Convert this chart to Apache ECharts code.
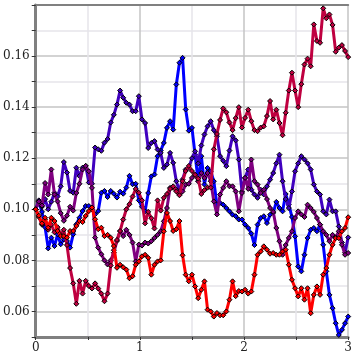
<!DOCTYPE html>
<html>
<head>
<meta charset="utf-8">
<script src="https://cdn.jsdelivr.net/npm/echarts@6/dist/echarts.min.js"></script>
<style>
  html, body { margin: 0; padding: 0; background: #fff; }
  #chart { width: 355px; height: 355px; }
</style>
</head>
<body>
<div id="chart"></div>
<script>
// sample positions along x (0 .. 3, step 0.03)
const xs = Array.from({ length: 101 }, (_, i) => +(i * 0.03).toFixed(2));

const walkBlue = [
  0.1000, 0.1030, 0.0990, 0.0930, 0.0847, 0.0889, 0.0856, 0.0902, 0.0863, 0.0882,
  0.0876, 0.0850, 0.0902, 0.0941, 0.0967, 0.0993, 0.1013, 0.1013, 0.1000, 0.0980,
  0.0993, 0.1065, 0.1072, 0.1048, 0.1072, 0.1061, 0.1046, 0.1069, 0.1061, 0.1085,
  0.1131, 0.1098, 0.1100, 0.1035, 0.1010, 0.0992, 0.1064, 0.1129, 0.1136, 0.1208,
  0.1230, 0.1260, 0.1319, 0.1345, 0.1312, 0.1489, 0.1574, 0.1593, 0.1391, 0.1308,
  0.1319, 0.1214, 0.1110, 0.1208, 0.1097, 0.1162, 0.1149, 0.1110, 0.1018, 0.1025,
  0.1018, 0.1005, 0.0992, 0.0979, 0.0973, 0.0960, 0.0960, 0.0940, 0.0927, 0.0905,
  0.0860, 0.0940, 0.0966, 0.0973, 0.0946, 0.0979, 0.0986, 0.1029, 0.1005, 0.0992,
  0.1060, 0.1018, 0.0970, 0.0894, 0.0776, 0.0757, 0.0822, 0.0888, 0.0920, 0.0927,
  0.0914, 0.0940, 0.0861, 0.0757, 0.0665, 0.0613, 0.0554, 0.0508, 0.0528, 0.0554,
  0.0580
];

const walkIndigo = [
  0.1000, 0.1035, 0.1010, 0.1040, 0.1000, 0.1030, 0.1065, 0.1050, 0.1090, 0.1185,
  0.1144, 0.1072, 0.1065, 0.1163, 0.1130, 0.1163, 0.1170, 0.1105, 0.1100, 0.1242,
  0.1235, 0.1229, 0.1261, 0.1275, 0.1340, 0.1370, 0.1410, 0.1465, 0.1437, 0.1417,
  0.1410, 0.1384, 0.1384, 0.1443, 0.1352, 0.1338, 0.1240, 0.1260, 0.1267, 0.1234,
  0.1221, 0.1162, 0.1175, 0.1221, 0.1182, 0.1110, 0.1071, 0.1117, 0.1156, 0.1162,
  0.1200, 0.1227, 0.1180, 0.1250, 0.1293, 0.1325, 0.1345, 0.1310, 0.1286, 0.1208,
  0.1190, 0.1169, 0.1230, 0.1286, 0.1270, 0.1195, 0.1070, 0.1123, 0.1156, 0.1077,
  0.1058, 0.1045, 0.1077, 0.1058, 0.1090, 0.1116, 0.1142, 0.1180, 0.1214, 0.1110,
  0.1040, 0.1005, 0.1070, 0.1149, 0.1180, 0.1208, 0.1195, 0.1180, 0.1156, 0.1097,
  0.1070, 0.1058, 0.0992, 0.0980, 0.1038, 0.0992, 0.0992, 0.0933, 0.0870, 0.0830,
  0.0890
];

const walkPurple = [
  0.1000, 0.1030, 0.1015, 0.1103, 0.1058, 0.1156, 0.1058, 0.1031, 0.0985, 0.0955,
  0.0975, 0.1010, 0.0995, 0.1064, 0.1100, 0.1156, 0.1170, 0.1149, 0.1084, 0.0889,
  0.0850, 0.0824, 0.0800, 0.0784, 0.0800, 0.0830, 0.0876, 0.0915, 0.0895, 0.0920,
  0.0900, 0.0870, 0.0796, 0.0862, 0.0858, 0.0870, 0.0866, 0.0875, 0.0888, 0.0900,
  0.0914, 0.0953, 0.1005, 0.1084, 0.1084, 0.1077, 0.1058, 0.1070, 0.1097, 0.1100,
  0.1123, 0.1136, 0.1110, 0.1142, 0.1123, 0.1142, 0.1110, 0.1031, 0.0980, 0.1058,
  0.1084, 0.1110, 0.1090, 0.1090, 0.1070, 0.0992, 0.1064, 0.1123, 0.1080, 0.1195,
  0.1110, 0.1097, 0.1064, 0.1077, 0.1040, 0.1005, 0.0990, 0.0927, 0.0875, 0.0822,
  0.0860, 0.0888, 0.0914, 0.0966, 0.0992, 0.0980, 0.0970, 0.1018, 0.1005, 0.0990,
  0.0966, 0.0940, 0.0914, 0.0900, 0.0875, 0.0900, 0.0890, 0.0914, 0.0861, 0.0822,
  0.0829
];

const walkCrimson = [
  0.1000, 0.0970, 0.0940, 0.0960, 0.0920, 0.0940, 0.0910, 0.0930, 0.0900, 0.0920,
  0.0860, 0.0770, 0.0710, 0.0630, 0.0720, 0.0670, 0.0720, 0.0700, 0.0690, 0.0710,
  0.0690, 0.0670, 0.0640, 0.0670, 0.0780, 0.0840, 0.0880, 0.0915, 0.0960, 0.1000,
  0.1020, 0.1050, 0.1080, 0.1065, 0.1035, 0.0945, 0.0990, 0.0965, 0.0925, 0.1035,
  0.0995, 0.1045, 0.1060, 0.1080, 0.1090, 0.1070, 0.1055, 0.1110, 0.1150, 0.1170,
  0.1150, 0.1135, 0.1120, 0.1060, 0.1075, 0.1085, 0.1085, 0.1235, 0.1295, 0.1350,
  0.1395, 0.1380, 0.1340, 0.1310, 0.1357, 0.1400, 0.1320, 0.1358, 0.1390, 0.1345,
  0.1310, 0.1306, 0.1320, 0.1325, 0.1365, 0.1424, 0.1352, 0.1390, 0.1338, 0.1290,
  0.1378, 0.1465, 0.1535, 0.1465, 0.1400, 0.1490, 0.1567, 0.1590, 0.1560, 0.1724,
  0.1659, 0.1652, 0.1787, 0.1748, 0.1763, 0.1722, 0.1617, 0.1633, 0.1643, 0.1620,
  0.1596
];

const walkRed = [
  0.1000, 0.0975, 0.0945, 0.0967, 0.0928, 0.0967, 0.0954, 0.0915, 0.0895, 0.0895,
  0.0889, 0.0915, 0.0915, 0.0935, 0.0954, 0.0950, 0.0974, 0.0993, 0.1007, 0.0961,
  0.0922, 0.0928, 0.0895, 0.0900, 0.0889, 0.0856, 0.0771, 0.0783, 0.0773, 0.0764,
  0.0730, 0.0738, 0.0783, 0.0796, 0.0816, 0.0822, 0.0810, 0.0744, 0.0783, 0.0796,
  0.0800, 0.0914, 0.0986, 0.0954, 0.0915, 0.0922, 0.0954, 0.0820, 0.0744, 0.0718,
  0.0744, 0.0698, 0.0652, 0.0685, 0.0718, 0.0607, 0.0600, 0.0580, 0.0594, 0.0585,
  0.0585, 0.0600, 0.0646, 0.0718, 0.0660, 0.0680, 0.0678, 0.0685, 0.0670, 0.0678,
  0.0744, 0.0822, 0.0835, 0.0855, 0.0842, 0.0826, 0.0829, 0.0822, 0.0822, 0.0835,
  0.0842, 0.0783, 0.0724, 0.0691, 0.0659, 0.0691, 0.0646, 0.0691, 0.0593, 0.0665,
  0.0698, 0.0665, 0.0744, 0.0770, 0.0822, 0.0861, 0.0887, 0.0887, 0.0914, 0.0927,
  0.0969
];

const xTickLabels = [0, 1, 2, 3];
const yTickLabels = [0.06, 0.08, 0.10, 0.12, 0.14, 0.16];

const walks = [
  { values: walkBlue, color: '#0000ff' },
  { values: walkIndigo, color: '#4000bf' },
  { values: walkPurple, color: '#800080' },
  { values: walkCrimson, color: '#bf0040' },
  { values: walkRed, color: '#ff0000' }
];

const chart = echarts.init(document.getElementById('chart'));

const labelFont = {
  fontFamily: 'DejaVu Serif',
  fontSize: 12,
  color: '#222'
};

chart.setOption({
  animation: false,
  grid: { left: 35, right: 2, top: 5, bottom: 18 },
  xAxis: [
    {
      type: 'value',
      min: 0,
      max: 3,
      interval: 0.5,
      axisLine: { show: true, onZero: false, lineStyle: { color: '#808080', width: 3 } },
      axisTick: { show: true, length: 3, lineStyle: { color: '#333' } },
      axisLabel: {
        ...labelFont,
        margin: 5,
        formatter: v => (xTickLabels.includes(v) ? String(v) : '')
      },
      splitLine: { show: true, lineStyle: { color: ['#c4c4c4', '#e6e4ea'], width: 1.5 } }
    },
    {
      type: 'value',
      position: 'top',
      min: 0,
      max: 3,
      axisLine: { show: true, onZero: false, lineStyle: { color: '#808080', width: 2 } },
      axisTick: { show: false },
      axisLabel: { show: false },
      splitLine: { show: false }
    }
  ],
  yAxis: {
    type: 'value',
    min: 0.05,
    max: 0.18,
    interval: 0.01,
    axisLine: { show: true, onZero: false, lineStyle: { color: '#808080', width: 3 } },
    axisTick: { show: true, length: 4, lineStyle: { color: '#333' } },
    axisLabel: {
      ...labelFont,
      margin: 6,
      formatter: v => {
        const r = Math.round(v * 100) / 100;
        return yTickLabels.includes(r) ? r.toFixed(2) : '';
      }
    },
    splitLine: { show: true, lineStyle: { color: ['#e6e4ea', '#c4c4c4'], width: 1.5 } }
  },
  series: walks.map((w, k) => ({
    type: 'line',
    data: xs.map((x, i) => [x, w.values[i]]),
    symbol: 'diamond',
    symbolSize: 5,
    showSymbol: true,
    lineStyle: { color: w.color, width: 3 },
    itemStyle: { color: w.color, borderColor: '#000', borderWidth: 1 },
    z: 2 + k
  }))
});
</script>
</body>
</html>
